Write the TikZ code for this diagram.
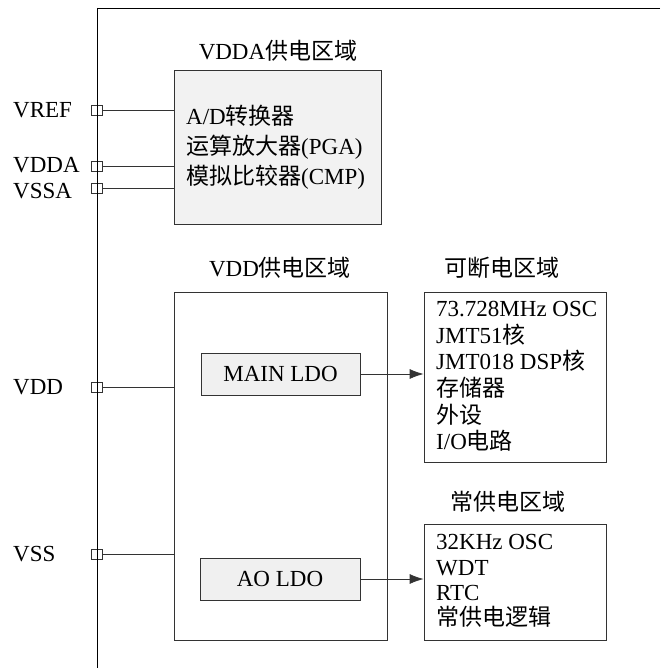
\documentclass[tikz,border=0pt]{standalone}
\usepackage{fontspec}
\setmainfont{Liberation Serif}
\newfontfamily\cjk{Noto Sans CJK SC}
\newcommand{\zh}[1]{{\cjk #1}}
\usetikzlibrary{arrows.meta}
\tikzset{
  txt/.style={font={\fontsize{23}{30}\selectfont}, inner sep=0pt},
  pin/.style={draw=black!80, fill=white, line width=0.8pt, minimum width=11pt, minimum height=10pt, inner sep=0pt},
  area/.style={draw=black!80, line width=0.8pt, inner sep=0pt},
  ldo/.style={area, fill=black!6, font={\fontsize{23}{30}\selectfont}},
  wire/.style={draw=black!80, line width=0.8pt},
  feed/.style={wire, -{Latex[length=14pt,width=10pt]}},
}
\begin{document}
\begin{tikzpicture}[x=1pt,y=-1pt]
  \useasboundingbox (0,0) rectangle (660,668);
  % chip outline
  \draw[line width=0.8pt] (660,8) -- (97,8) -- (97,668);
  % analog supply area
  \node[txt] (vddatitle) at (278,51) {VDDA\zh{供电区域}};
  \node[area, fill=black!5, minimum width=207pt, minimum height=154pt] (vdda) at (277.5,147) {};
  \node[txt, align=left, anchor=west] (analog) at (186,147.5)
    {A/D\zh{转换器}\\\zh{运算放大器}(PGA)\\\zh{模拟比较器}(CMP)};
  % digital supply area
  \node[txt] (vddtitle) at (280,268) {VDD\zh{供电区域}};
  \node[area, minimum width=213pt, minimum height=348pt] (vdd) at (280.5,466) {};
  \node[ldo, minimum width=159pt, minimum height=42pt] (main) at (280.5,374) {MAIN LDO};
  \node[ldo, minimum width=160pt, minimum height=42pt] (ao) at (280,579) {AO LDO};
  % switchable area
  \node[txt] (offtitle) at (502,268) {\zh{可断电区域}};
  \node[area, minimum width=182pt, minimum height=170pt] (off) at (515,377) {};
  \node[txt, align=left, anchor=west, font={\fontsize{23}{26.6}\selectfont}] (offlist) at (436,376.5)
    {73.728MHz OSC\\JMT51\zh{核}\\JMT018 DSP\zh{核}\\\zh{存储器}\\\zh{外设}\\I/O\zh{电路}};
  % always-on area
  \node[txt] (aotitle) at (508,502) {\zh{常供电区域}};
  \node[area, minimum width=182pt, minimum height=116pt] (on) at (515,582) {};
  \node[txt, align=left, anchor=west, font={\fontsize{23}{25.3}\selectfont}] (onlist) at (436,581)
    {32KHz OSC\\WDT\\RTC\\\zh{常供电逻辑}};
  % pins
  \foreach \name/\lbl/\y/\ly in {vref/VREF/110/110, vddapin/VDDA/166.5/165, vssa/VSSA/188.5/191, vddpin/VDD/387/387, vss/VSS/554/554} {
    \node[pin] (\name) at (97,\y) {};
    \node[txt, anchor=west] (\name lbl) at (13,\ly) {\lbl};
  }
  \draw[line width=0.8pt] (97,8) -- (97,668);
  \foreach \name in {vref, vddapin, vssa}
    \draw[wire] (\name.east) -- (\name.east -| vdda.west);
  \foreach \name in {vddpin, vss}
    \draw[wire] (\name.east) -- (\name.east -| vdd.west);
  \draw[feed] (main.east) -- (main.east -| off.west);
  \draw[feed] (ao.east) -- (ao.east -| on.west);
\end{tikzpicture}
\end{document}
